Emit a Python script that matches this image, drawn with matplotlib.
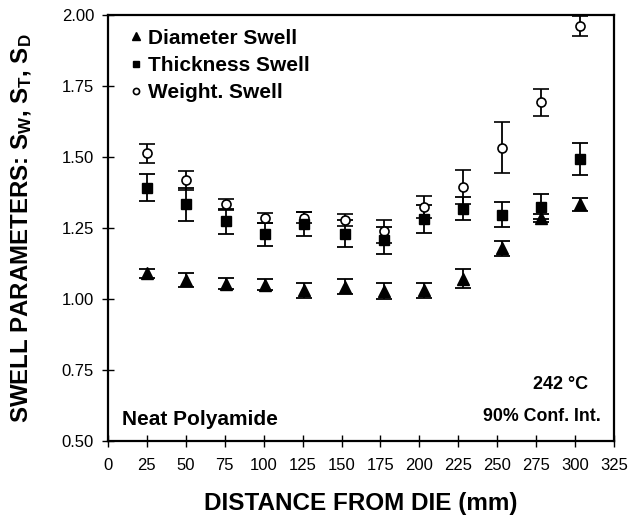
import matplotlib
matplotlib.use("Agg")
import matplotlib.pyplot as plt

plt.rcParams['font.family'] = ['Liberation Sans', 'DejaVu Sans']
plt.rcParams['mathtext.fontset'] = 'custom'
plt.rcParams['mathtext.rm'] = 'Liberation Sans:bold'
plt.rcParams['mathtext.bf'] = 'Liberation Sans:bold'
plt.rcParams['mathtext.it'] = 'Liberation Sans:bold'

distance = [25, 50, 76, 101, 126, 152, 177, 203, 228, 253, 278, 303]
diameter = [1.090, 1.066, 1.054, 1.051, 1.030, 1.044, 1.028, 1.030, 1.072, 1.178, 1.285, 1.333]
diameter_err = [0.015, 0.025, 0.020, 0.020, 0.027, 0.025, 0.027, 0.028, 0.033, 0.025, 0.015, 0.024]
thickness = [1.392, 1.333, 1.273, 1.228, 1.264, 1.230, 1.206, 1.282, 1.318, 1.297, 1.325, 1.493]
thickness_err = [0.048, 0.058, 0.045, 0.040, 0.043, 0.048, 0.048, 0.050, 0.040, 0.045, 0.045, 0.058]
weight = [1.513, 1.418, 1.333, 1.284, 1.286, 1.278, 1.238, 1.323, 1.395, 1.532, 1.692, 1.962]
weight_err = [0.034, 0.033, 0.020, 0.018, 0.020, 0.020, 0.040, 0.038, 0.060, 0.090, 0.047, 0.035]

xticks = [0, 25, 50, 75, 100, 125, 150, 175, 200, 225, 250, 275, 300, 325]
yticks = [0.50, 0.75, 1.00, 1.25, 1.50, 1.75, 2.00]

W, H = 630, 519
L, R, B, T = 108, 614, 441, 15
fig = plt.figure(figsize=(W/100, H/100), dpi=100)
ax = fig.add_axes([L/W, 1 - B/H, (R-L)/W, (B-T)/H])

common = dict(color='black', ecolor='black', linestyle='none', capsize=5.5,
              elinewidth=1.3, capthick=1.3)
ax.errorbar(distance, weight, yerr=weight_err, marker='o', markersize=6.5,
            markerfacecolor='white', markeredgewidth=1.2, label='Weight. Swell', **common)
ax.errorbar(distance, thickness, yerr=thickness_err, marker='s', markersize=7,
            label='Thickness Swell', **common)
ax.errorbar(distance, diameter, yerr=diameter_err, marker='^', markersize=8,
            label='Diameter Swell', **common)

ax.set_xlim(0, 325)
ax.set_ylim(0.5, 2.0)
ax.set_xticks(xticks)
ax.set_yticks(yticks)
ax.set_yticklabels([f"{v:.2f}" for v in yticks])
ax.tick_params(direction='inout', length=8, width=1, labelsize=12)
ax.tick_params(axis='x', pad=8)
ax.tick_params(axis='y', pad=6)
for s in ax.spines.values():
    s.set_linewidth(1.6)

ax.set_xlabel('DISTANCE FROM DIE (mm)', fontsize=17.5, fontweight='bold', labelpad=14)
ax.set_ylabel(r'SWELL PARAMETERS: $\mathbf{S_W}$, $\mathbf{S_T}$, $\mathbf{S_D}$',
              fontsize=17.3, fontweight='bold', labelpad=20)

handles, labels = ax.get_legend_handles_labels()
order = [2, 1, 0]
handles = [h[0] for h in handles]
leg = ax.legend([handles[i] for i in order], [labels[i] for i in order],
                loc='upper left', bbox_to_anchor=(0.005, 1.012), frameon=False,
                prop={'weight': 'bold', 'size': 15}, handlelength=0.6,
                handletextpad=0.3, labelspacing=0.4, markerscale=0.68)

ax.text(0.028, 0.0376, 'Neat Polyamide', transform=ax.transAxes, fontsize=15,
        fontweight='bold', ha='left', va='baseline')
ax.text(0.974, 0.048, '90% Conf. Int.', transform=ax.transAxes, fontsize=12.8,
        fontweight='bold', ha='right', va='baseline')
ax.text(0.948, 0.122, '242 °C', transform=ax.transAxes, fontsize=13,
        fontweight='bold', ha='right', va='baseline')

fig.savefig('out.png', dpi=100)
